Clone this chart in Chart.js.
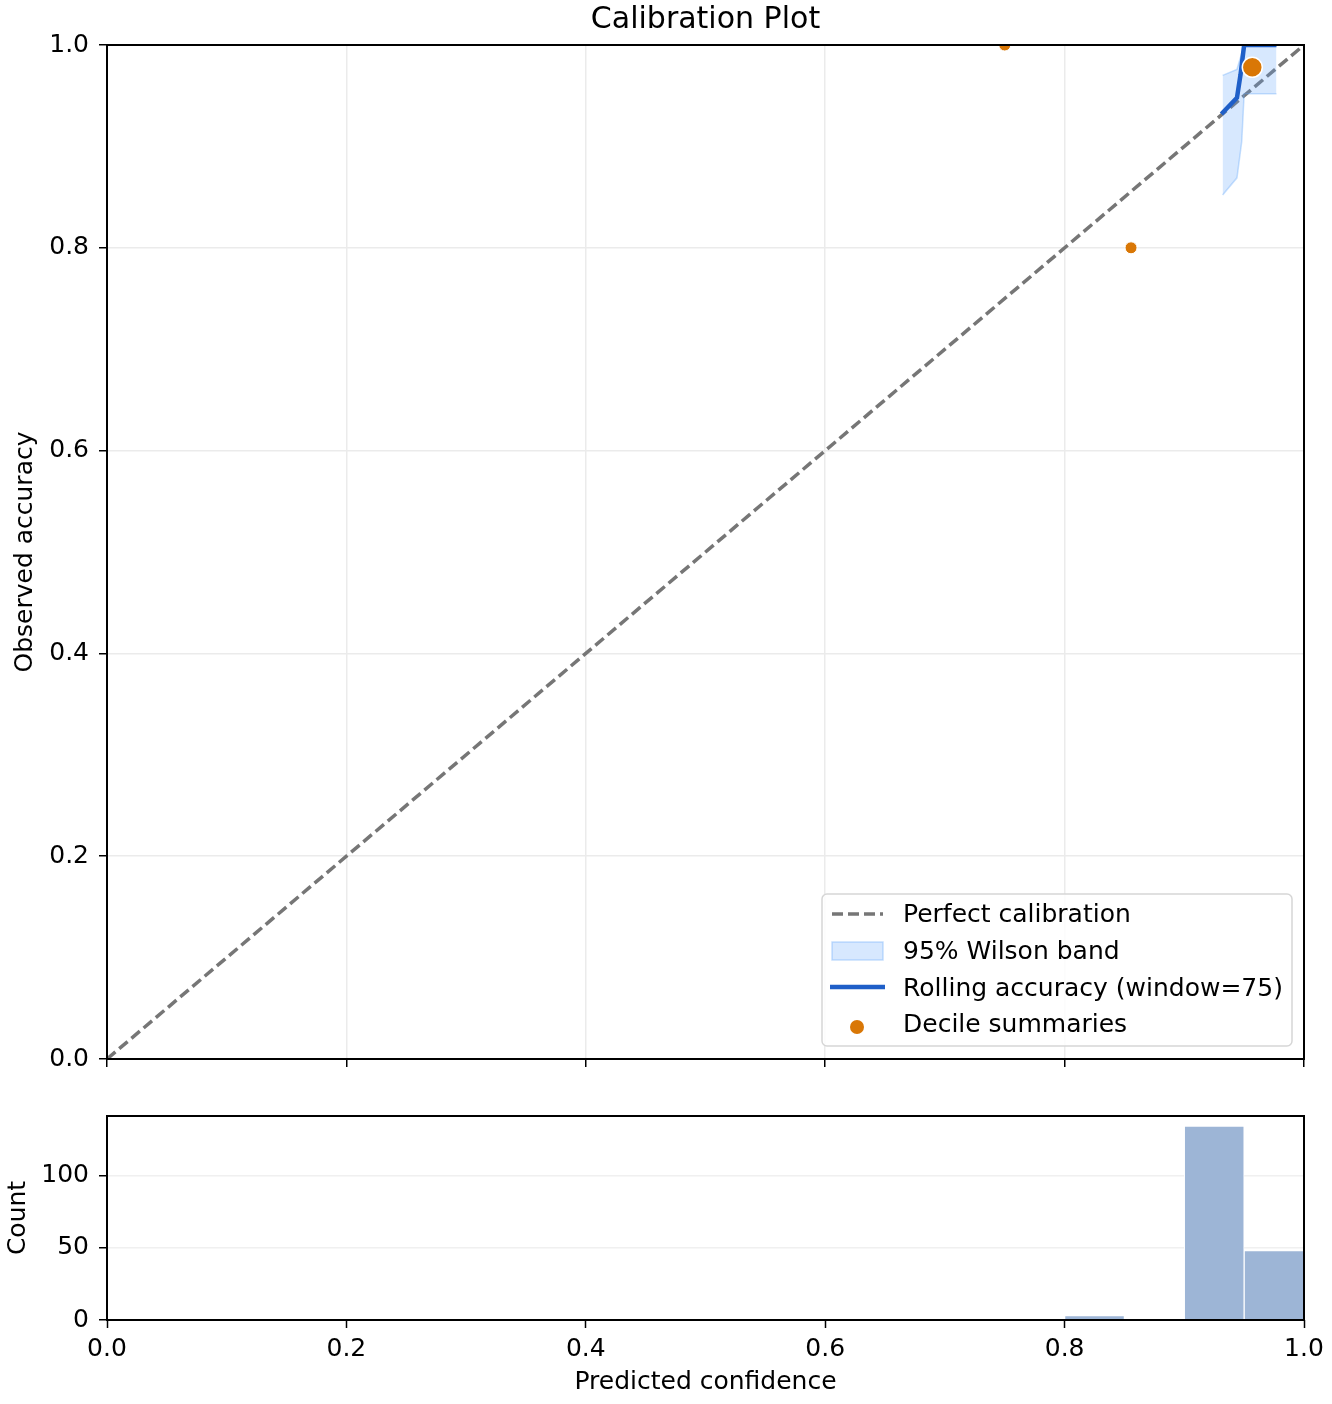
<!DOCTYPE html>
<html>
<head>
<meta charset="utf-8">
<title>Calibration Plot</title>
<script src="https://cdn.jsdelivr.net/npm/chart.js@4.4.1/dist/chart.umd.min.js"></script>
<style>
  body { margin: 0; background: #fff; }
  #wrap { position: relative; width: 1332px; height: 1404px; }
  canvas { position: absolute; left: 0; }
  #main { top: 0; }
  #hist { top: 1090px; }
</style>
</head>
<body>
<div id="wrap">
  <canvas id="main" width="1332" height="1090"></canvas>
  <canvas id="hist" width="1332" height="314"></canvas>
</div>
<script>
// tick values
const xTicks = [0, 0.2, 0.4, 0.6, 0.8, 1.0];
const yTicks = [0, 0.2, 0.4, 0.6, 0.8, 1.0];
const countTicks = [0, 50, 100];

// perfect calibration diagonal
const diagX = [0, 1];
const diagY = [0, 1];

// rolling accuracy (window=75)
const rollX = [0.931, 0.944, 0.947, 0.950, 0.977];
const rollY = [0.932, 0.948, 0.971, 1.0, 1.0];

// 95% Wilson band
const bandX = [0.932, 0.944, 0.948, 0.950, 0.977];
const bandLower = [0.852, 0.869, 0.905, 0.952, 0.952];
const bandUpper = [0.970, 0.976, 0.992, 1.0, 1.0];

// decile summaries
const decileX = [0.750, 0.8555, 0.9568];
const decileY = [1.0, 0.80, 0.978];

// histogram of predicted confidence (bin width 0.05)
const binCenters = [0.025, 0.075, 0.125, 0.175, 0.225, 0.275, 0.325, 0.375, 0.425, 0.475,
                    0.525, 0.575, 0.625, 0.675, 0.725, 0.775, 0.825, 0.875, 0.925, 0.975];
const binCounts = [0, 0, 0, 0, 0, 0, 0, 0, 0, 0,
                   0, 0, 0, 0, 0, 0, 3, 0, 134, 48];

Chart.defaults.font.family = "'DejaVu Sans', sans-serif";
Chart.defaults.font.size = 25;
Chart.defaults.color = '#000';

const pts = (xs, ys) => xs.map((x, i) => ({ x: x, y: ys[i] }));
const setTicks = vals => scale => { scale.ticks = vals.map(v => ({ value: v })); };

// black box round the plot area, like matplotlib spines
const framePlugin = {
    id: 'frame',
    afterDraw(chart) {
        const { ctx, chartArea: a } = chart;
        ctx.save();
        ctx.strokeStyle = '#000';
        ctx.lineWidth = 2;
        ctx.strokeRect(a.left, a.top, a.right - a.left, a.bottom - a.top);
        ctx.restore();
    }
};

// legend drawn inside the lower right corner
const legendPlugin = {
    id: 'insideLegend',
    afterDraw(chart) {
        const { ctx, chartArea: a } = chart;
        const w = 470, h = 152;
        const x0 = a.right - 12 - w, y0 = a.bottom - 13 - h;
        ctx.save();
        ctx.beginPath();
        ctx.roundRect(x0, y0, w, h, 5);
        ctx.fillStyle = 'rgba(255,255,255,0.85)';
        ctx.fill();
        ctx.strokeStyle = '#d6d6d6';
        ctx.lineWidth = 1.5;
        ctx.stroke();

        // dashed line handle
        ctx.beginPath();
        ctx.setLineDash([11, 5]);
        ctx.strokeStyle = '#767676';
        ctx.lineWidth = 3.5;
        ctx.moveTo(x0 + 10, y0 + 20);
        ctx.lineTo(x0 + 61, y0 + 20);
        ctx.stroke();
        ctx.setLineDash([]);

        // band patch
        ctx.fillStyle = 'rgba(96,165,250,0.25)';
        ctx.fillRect(x0 + 10, y0 + 48, 51, 18);
        ctx.strokeStyle = 'rgba(96,165,250,0.35)';
        ctx.lineWidth = 1.5;
        ctx.strokeRect(x0 + 10, y0 + 48, 51, 18);

        // rolling line handle
        ctx.beginPath();
        ctx.strokeStyle = '#1f5fc8';
        ctx.lineWidth = 4.5;
        ctx.moveTo(x0 + 8, y0 + 93);
        ctx.lineTo(x0 + 63, y0 + 93);
        ctx.stroke();

        // decile marker
        ctx.beginPath();
        ctx.arc(x0 + 35, y0 + 133, 7, 0, Math.PI * 2);
        ctx.fillStyle = '#d97706';
        ctx.fill();

        ctx.fillStyle = '#000';
        ctx.font = "25px 'DejaVu Sans', sans-serif";
        ctx.textBaseline = 'middle';
        ctx.textAlign = 'left';
        const labels = ['Perfect calibration', '95% Wilson band', 'Rolling accuracy (window=75)', 'Decile summaries'];
        const rows = [21, 58, 95, 131];
        labels.forEach((t, i) => ctx.fillText(t, x0 + 81, y0 + rows[i]));
        ctx.restore();
    }
};

const bandStyle = {
    borderColor: 'rgba(96,165,250,0.35)',
    borderWidth: 1.5,
    pointRadius: 0,
    tension: 0
};

new Chart(document.getElementById('main'), {
    type: 'scatter',
    data: {
        datasets: [
            {
                label: 'Decile summaries',
                data: pts(decileX, decileY),
                backgroundColor: '#d97706',
                borderColor: '#ffffff',
                borderWidth: [1, 1, 1.5],
                pointRadius: [6, 6, 10],
                order: 0,
                clip: 0
            },
            {
                type: 'line',
                label: 'Rolling accuracy (window=75)',
                data: pts(rollX, rollY),
                borderColor: '#1f5fc8',
                borderWidth: 4.5,
                pointRadius: 0,
                fill: false,
                tension: 0,
                order: 1,
                clip: 0
            },
            Object.assign({
                type: 'line',
                label: '95% Wilson band',
                data: pts(bandX, bandUpper),
                backgroundColor: 'rgba(96,165,250,0.25)',
                fill: '+1',
                order: 2,
                clip: 0
            }, bandStyle),
            Object.assign({
                type: 'line',
                label: 'band lower',
                data: pts(bandX, bandLower),
                fill: false,
                order: 2,
                clip: 0
            }, bandStyle),
            {
                type: 'line',
                label: 'Perfect calibration',
                data: pts(diagX, diagY),
                borderColor: '#767676',
                borderDash: [11, 5],
                borderWidth: 3.5,
                pointRadius: 0,
                fill: false,
                order: 3
            }
        ]
    },
    options: {
        responsive: false,
        animation: false,
        devicePixelRatio: 1,
        layout: { padding: { left: 0, right: 28, top: 0, bottom: 0 } },
        plugins: {
            legend: { display: false },
            tooltip: { enabled: false },
            title: {
                display: true,
                fullSize: false,
                text: 'Calibration Plot',
                font: { size: 30, weight: 'normal' },
                color: '#000',
                padding: { top: 2, bottom: 7 }
            }
        },
        scales: {
            x: {
                type: 'linear',
                min: 0,
                max: 1,
                afterBuildTicks: setTicks(xTicks),
                ticks: { display: false },
                grid: { color: '#ebebeb', lineWidth: 1.5, tickColor: '#000', tickLength: 8, tickWidth: 1.5 },
                border: { display: false },
                afterFit: s => { s.height = 31; }
            },
            y: {
                min: 0,
                max: 1,
                afterBuildTicks: setTicks(yTicks),
                ticks: { callback: v => v.toFixed(1), padding: 10, color: '#000' },
                grid: { color: '#ebebeb', lineWidth: 1.5, tickColor: '#000', tickLength: 8, tickWidth: 1.5 },
                border: { display: false },
                title: { display: true, text: 'Observed accuracy', padding: { top: 10, bottom: 0 } },
                afterFit: s => { s.width = 107; }
            }
        }
    },
    plugins: [framePlugin, legendPlugin]
});

new Chart(document.getElementById('hist'), {
    type: 'bar',
    data: {
        datasets: [{
            label: 'Count',
            data: pts(binCenters, binCounts),
            backgroundColor: '#9db5d6',
            borderColor: '#ffffff',
            borderWidth: 1,
            borderSkipped: 'start',
            barPercentage: 1,
            categoryPercentage: 1
        }]
    },
    options: {
        responsive: false,
        animation: false,
        devicePixelRatio: 1,
        layout: { padding: { left: 0, right: 28, top: 26, bottom: 0 } },
        plugins: {
            legend: { display: false },
            tooltip: { enabled: false }
        },
        scales: {
            x: {
                type: 'linear',
                min: 0,
                max: 1,
                offset: false,
                afterBuildTicks: setTicks(xTicks),
                ticks: { callback: v => v.toFixed(1), padding: 6, color: '#000', maxRotation: 0 },
                grid: { offset: false, drawOnChartArea: false, tickColor: '#000', tickLength: 8, tickWidth: 1.5 },
                border: { display: false },
                title: { display: true, text: 'Predicted confidence', padding: { top: 0, bottom: 7 } },
                afterFit: s => { s.height = 84; }
            },
            y: {
                min: 0,
                max: 141,
                afterBuildTicks: setTicks(countTicks),
                ticks: { padding: 10, color: '#000' },
                grid: { color: '#f0f0f0', lineWidth: 1.5, tickColor: '#000', tickLength: 8, tickWidth: 1.5 },
                border: { display: false },
                title: { display: true, text: 'Count', padding: { top: 3, bottom: 0 } },
                afterFit: s => { s.width = 107; }
            }
        }
    },
    plugins: [framePlugin]
});
</script>
</body>
</html>
